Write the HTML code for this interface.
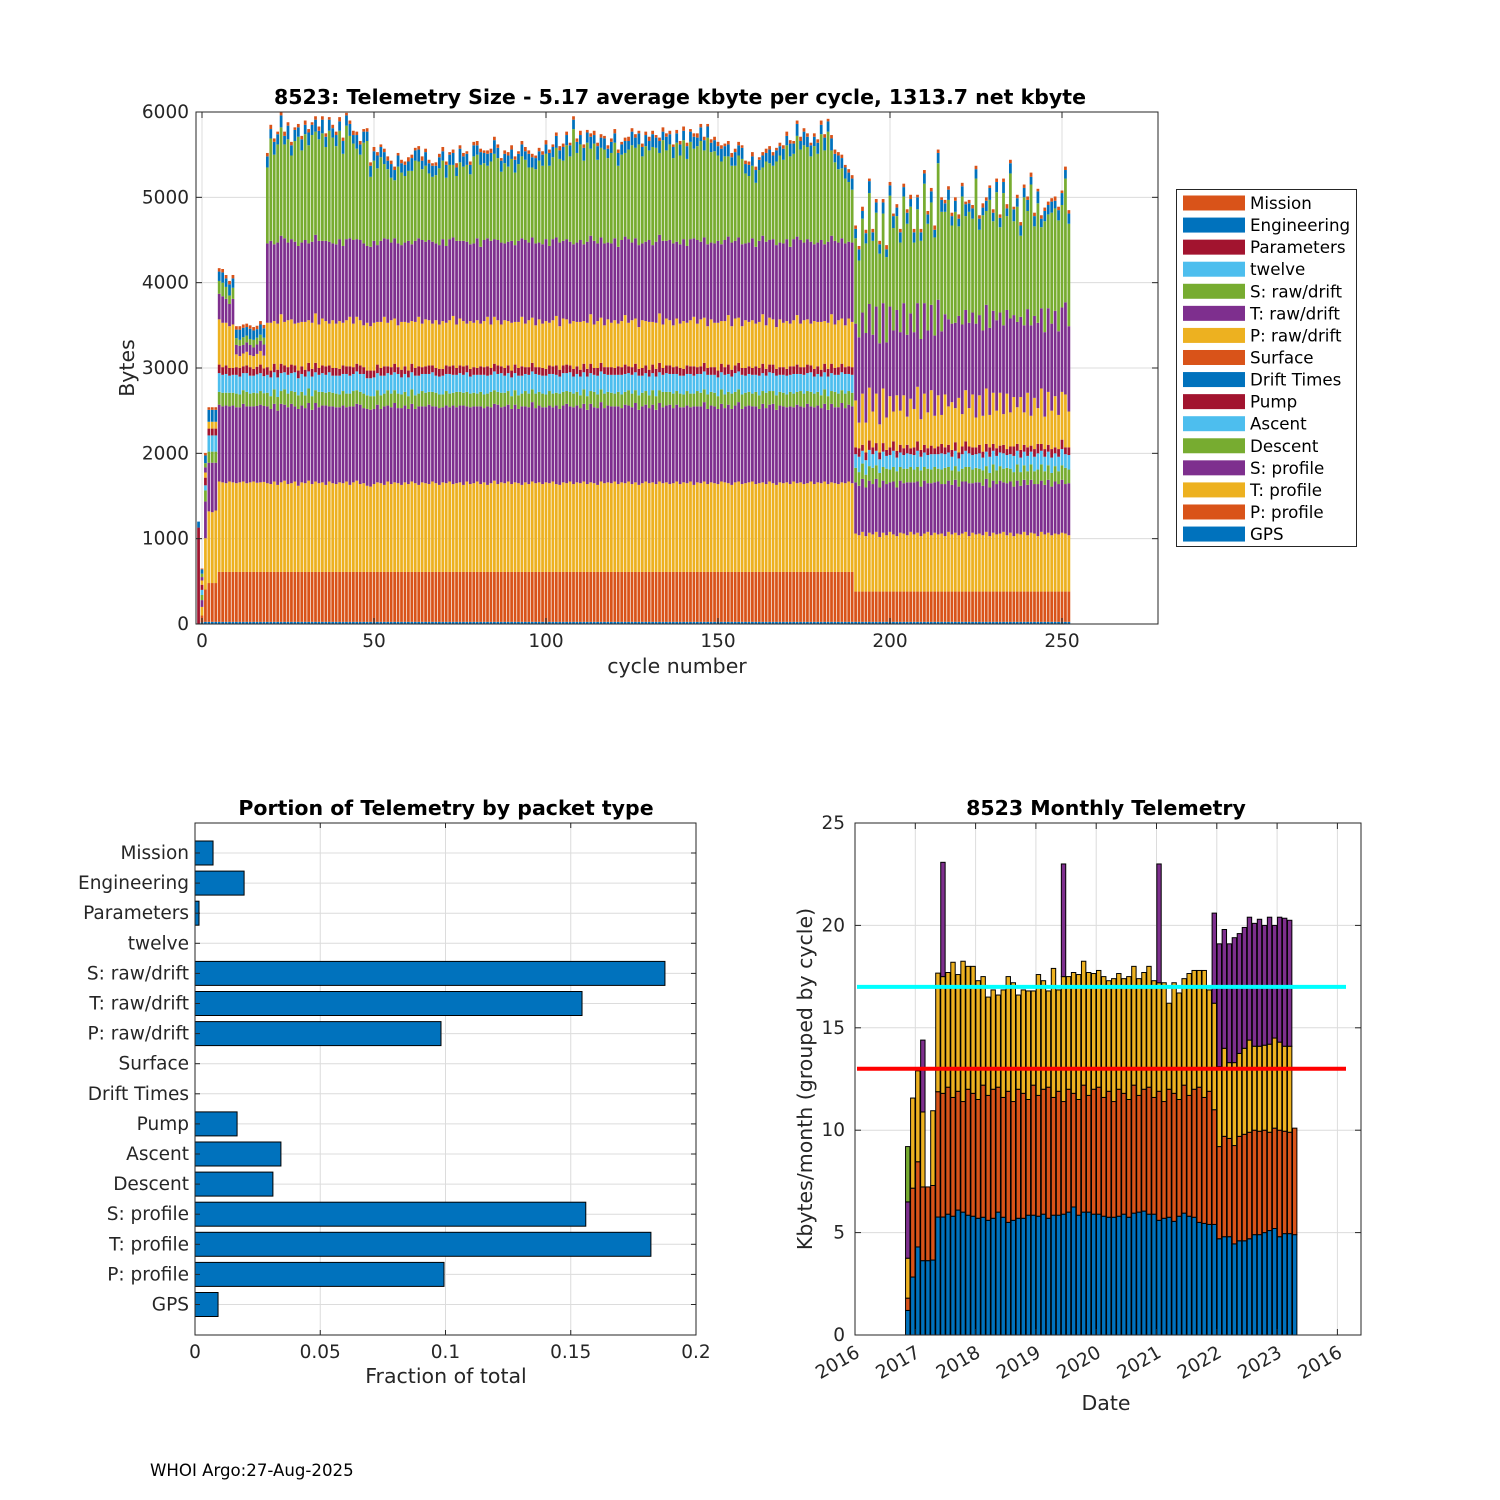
<!DOCTYPE html>
<html><head><meta charset="utf-8"><title>8523 Telemetry</title>
<style>
html,body{margin:0;padding:0;background:#fff;}
svg{display:block;font-family:"DejaVu Sans","Liberation Sans",sans-serif;}
</style></head>
<body>
<svg id="fig" xmlns="http://www.w3.org/2000/svg" width="1500" height="1500" viewBox="0 0 1500 1500">
<rect x="0" y="0" width="1500" height="1500" fill="#fff"/>
</svg>
<script>
// ---------------- TOP CHART DATA (cycles -1 .. 252) ----------------
const R = (arr, n) => [].concat(...Array(n).fill(arr));
const gps = [0,20,25,25,25,25,25,25,25,25,25,25,25,25,25,25,25,25,25,25].concat(R([25,25,25,25,25,25,25,25,25,25],17),[25],R([25,25,25,25,25,25,25],9));
const pProfile = [0,80,380,455,455,455,585,585,585,585,585,585,585,585,585,585,585,585,585,585].concat(R([585,585,585,585,585,585,585,585,585,585],17),[585],R([355,355,355,355,355,355,355],9));
const tProfile = [0,100,600,840,830,850,1060,1050,1040,1060,1050,1040,1050,1060,1040,1050,1060,1045,1050,1055,
1040,1030,1060,1020,1050,1070,1030,1040,1060,1010,
1050,1040,1070,1030,1060,1040,1050,1020,1060,1040,
1030,1050,1040,1060,1020,1050,1070,1030,1040,1010,
1000,1030,1050,1040,1020,1060,1030,1050,1040,1020,
1050,1030,1060,1040,1020,1050,1040,1030,1060,1040,
1020,1050,1040,1060,1030,1040,1050,1020,1060,1030,
1040,1060,1030,1050,1020,1040,1070,1030,1050,1040,
1060,1030,1050,1040,1020,1050,1030,1060,1040,1050,
1030,1050,1040,1060,1030,1020,1050,1040,1060,1030,
1050,1040,1060,1030,1050,1040,1020,1060,1040,1050,
1040,1060,1030,1050,1040,1060,1030,1050,1020,1040,
1060,1040,1050,1030,1060,1040,1050,1030,1040,1060,
1030,1050,1040,1060,1020,1050,1040,1060,1030,1050,
1040,1030,1060,1050,1040,1020,1050,1060,1030,1040,
1050,1060,1030,1040,1050,1030,1060,1040,1020,1050,
1040,1050,1030,1060,1040,1050,1030,1040,1060,1030,
1050,1040,1060,1030,1050,1040,1030,1050,1040,1060,1040,
680,660,700,650,690,670,700,640,690,660,700,670,650,690,680,660,700,670,690,650,
680,700,660,690,670,680,650,700,670,690,660,680,700,650,690,670,680,660,700,650,
690,670,680,700,660,690,650,680,670,700,660,690,680,650,700,670,690,660,680,670,690,680,660];
const sProfile = [0,80,430,570,580,560,900,890,910,880,900,890,880,910,900,890,880,900,910,890].concat(
R([900,880,910,870,920,890,900,930,880,900],17),[900],
R([600,580,620,570,610,590,620,580,610],7));
const descent = [0,60,130,130,130,130,150,160,150,160,150,160,150,160,170,150,160,150,160,150].concat(
R([160,150,170,160,150,180,160,150,170,160],17),[160],
R([170,160,180,150,170,190,160],9));
const ascent = [0,60,60,190,190,190,220,210,220,200,210,220,210,200,220,210,200,220,210,200].concat(
R([210,220,200,230,210,200,220,210,230,200],17),[210],
R([160,180,150,170,190,160,170],9));
const pump = [1130,60,90,80,80,80,100,90,100,90,80,90,100,80,90,100,80,90,100,90].concat(
R([90,80,100,90,110,80,90,100,80,90],17),[90],
R([80,100,70,90,110,80,90],9));
const pRaw = [0,50,60,80,80,80,530,520,500,490,510,150,140,150,160,140,150,150,160,150].concat(
R([520,560,500,540,580,510,550,530,490,560],17),[530],
[550,300,600,350,620,420,580,330,640,380,600,350,650,400,620,330,580,450,640,360,
600,420,650,380,600,340,620,450,560,400,640,380,600,450,620,350,580,420,650,380,
600,440,620,360,650,400,580,430,620,380,640,350,600,420,650,380,620,450,600,400,560,620,420]);
const tRaw = [0,40,60,0,0,0,300,310,280,260,300,110,120,100,110,120,100,110,120,130].concat(
R([930,960,900,950,920,980,910,940,960,900],17),[930],
[900,1000,950,1050,980,900,1020,950,1000,880,1050,950,1000,920,1080,960,1000,900,980,940,
1060,960,1000,940,1120,980,940,1020,920,1000,960,1050,940,1000,960,1100,940,1000,980,1020,
960,1060,940,1040,980,1100,960,1000,940,1020,980,1060,960,1000,940,990,980,1020,1000,980,990,1080,1000]);
const sRaw = [0,40,50,0,0,0,150,160,140,100,130,80,70,90,80,70,90,80,70,80,
890,1200,1050,1150,1270,1100,1210,980,1180,1280,
1080,1240,1150,1250,1210,1190,1260,1100,1300,1240,
1150,1270,1080,1330,1200,1130,1060,1000,1180,1230,
820,940,900,980,870,820,760,680,900,850,
780,820,860,940,900,830,890,780,760,800,
900,920,800,870,850,760,920,870,900,820,
1020,980,960,900,850,930,1000,960,830,940,
880,960,850,900,960,940,880,820,870,960,
920,1000,940,960,1050,980,940,1100,1000,1350,
1050,1120,980,1160,1020,1140,980,1050,1100,990,
1060,1120,950,1000,980,1050,1140,1060,1180,1020,
1120,1050,1150,1100,960,1180,1060,1120,1000,1160,
1040,1160,1020,1140,1050,1100,1180,1020,1250,1060,
1080,1000,970,980,940,900,880,960,1000,820,
780,850,750,830,800,940,900,860,980,1020,
980,1100,1060,1000,1180,1060,1140,1080,1000,1150,
1040,1240,1100,1290,1000,920,860,820,760,700,620,
1000,900,1100,1050,1300,1100,1100,1050,1050,1000,1300,1200,1100,1050,1250,1300,1250,1050,1100,1150,
1400,1250,1200,1150,1600,1400,1200,1400,1150,1300,1050,1500,1100,1300,1100,1700,1000,1350,1100,1500,
1050,1500,1000,1550,1100,1700,1100,1350,950,1500,1150,1650,1050,1400,950,1300,1100,1300,1200,1300,1200,1450,1200];
const engineering = [70,50,90,140,140,140,110,120,100,130,110,100,120,110,100,120,110,100,120,110].concat(
R([130,110,150,120,140,100,160,120,130,110],17),[130],
R([110,130,90,120,140,100,120],9));
const mission = [0,10,30,30,30,30,40,40,40,40,40,40,40,40,40,40,40,40,40,40].concat(
R([40,50,40,30,40,50,40,40,30,40],17),[40],
R([40,40,50,40,30,40,40],9));
const firstCycle = -1;
const topYTicks = [0,1000,2000,3000,4000,5000,6000];
const topXTicks = [0,50,100,150,200,250];
const legendNames = ['Mission','Engineering','Parameters','twelve','S: raw/drift','T: raw/drift','P: raw/drift','Surface','Drift Times','Pump','Ascent','Descent','S: profile','T: profile','P: profile','GPS'];

// ---------------- BOTTOM-LEFT DATA ----------------
const packetTypes = ['Mission','Engineering','Parameters','twelve','S: raw/drift','T: raw/drift','P: raw/drift','Surface','Drift Times','Pump','Ascent','Descent','S: profile','T: profile','P: profile','GPS'];
const packetFractions = [0.0072,0.0196,0.0016,0,0.1876,0.1545,0.0982,0,0,0.0168,0.0343,0.0311,0.156,0.182,0.0994,0.0092];
const fracTicks = [0,0.05,0.1,0.15,0.2];
const fracTickLabels = ['0','0.05','0.1','0.15','0.2'];

// ---------------- BOTTOM-RIGHT DATA (monthly, from Nov 2016) ----------------
const monthStart = 2016 + 10/12;
const mBlue = [1.2,2.83,4.3,3.63,3.63,3.66,5.76,5.76,
5.9,5.8,6.1,6.0,5.85,5.8,5.7,5.75,5.6,5.7,6.0,5.75,5.5,5.6,5.7,5.7,5.85,5.85,5.8,5.9,
5.7,5.85,5.85,5.9,6.0,6.25,5.85,6.0,6.0,5.9,5.9,5.8,5.75,5.75,5.8,5.9,5.75,5.95,6.0,6.05,
5.9,5.9,5.6,5.7,5.75,5.55,5.8,5.95,5.8,5.75,5.5,5.45,5.4,
5.4,4.7,4.8,4.8,4.45,4.6,4.6,4.7,4.9,4.9,5.0,5.1,5.2,4.8,4.95,4.95,4.9];
const mOrange = [0.6,4.34,4.16,3.6,3.6,3.64,6.12,6.04,
6.2,5.8,5.8,5.4,6.15,6.0,5.8,6.45,6.1,6.3,
6.1,5.85,6.4,5.8,6.3,6.1,5.65,6.35,5.9,6.1,
6.4,5.75,6.05,5.5,6.0,5.55,5.65,6.2,5.7,6.1,
6.2,5.8,6.15,5.65,6.2,5.9,5.75,6.25,5.7,5.95,
6.2,5.7,6.3,5.7,6.25,6.25,5.7,6.25,5.9,6.25,
6.6,6.15,6.5,
5.6,4.5,4.9,4.8,4.8,5.1,5.2,5.2,5.1,5.05,5.0,4.8,4.9,5.2,5.0,4.95,5.2];
const mYellow = [1.95,4.4,4.44,3.66,0,3.65,5.79,5.7,
5.6,6.6,5.7,6.85,6.0,6.2,5.8,5.3,4.8,4.85,
4.5,5.25,5.6,5.8,4.6,5.05,5.3,4.6,5.9,5.3,
4.7,6.3,4.95,6.1,5.5,5.9,6.1,6.05,6.0,5.65,
5.7,5.9,5.4,6.0,5.65,5.6,6.0,5.8,5.7,5.7,
5.9,5.7,5.3,5.8,4.2,5.4,5.2,5.2,5.95,5.8,
5.7,6.2,4.95,
5.2,3.9,4.3,3.7,4.05,4.05,4.2,4.5,4.1,4.15,4.15,4.3,4.4,4.3,4.15,4.2,0];
const mPurple = [2.75,0,0,3.51,0,0,0,5.58,
0,0,0,0,0,0,0,0,0,0,0,0,0,0,0,0,0,0,0,0,
0,0,0,5.5,0,0,0,0,0,0,0,0,0,0,0,0,0,0,0,0,
0,0,5.8,0,0,0,0,0,0,0,0,0,0,
4.4,6.0,5.8,5.8,6.1,5.85,5.9,6.0,6.0,6.2,5.85,6.2,5.5,6.1,6.25,6.15,0];
const mGreen = [2.7,0,0,0,0,0,0,0,
0,0,0,0,0,0,0,0,0,0,0,0,0,0,0,0,0,0,0,0,
0,0,0,0,0,0,0,0,0,0,0,0,0,0,0,0,0,0,0,0,
0,0,0,0,0,0,0,0,0,0,0,0,0,
0,0,0,0,0,0,0,0,0,0,0,0,0,0,0,0,0];
const monthlyYTicks = [0,5,10,15,20,25];
const yearTicks = [2016,2017,2018,2019,2020,2021,2022,2023,2024];
const yearTickLabels = ['2016','2017','2018','2019','2020','2021','2022','2023','2016'];
const refLines = [17,13];

// ---------------- helpers ----------------
const NS = 'http://www.w3.org/2000/svg';
const svg = document.getElementById('fig');
function mk(tag, attrs, parent){
  const e = document.createElementNS(NS, tag);
  for (const k in attrs) e.setAttribute(k, attrs[k]);
  (parent||svg).appendChild(e);
  return e;
}
function txt(str, attrs, parent){ const t = mk('text', attrs, parent); t.textContent = str; return t; }
const C = {blue:'#0072BD',orange:'#D95319',yellow:'#EDB120',purple:'#7E2F8E',green:'#77AC30',cyan:'#4DBEEE',red:'#A2142F'};
const GRID = '#dcdcdc', AX = '#262626';
const TICKFS = 18.5, LABFS = 20.5;

// ================= TOP CHART =================
{
  const L=196,R2=1158,T=112,B=624;
  const xs = c => 202 + c*3.44;
  const ys = v => B - v*(B-T)/6000;
  const g = mk('g',{});
  
  
  topYTicks.forEach(v=>{ const l=mk('line',{x1:L,x2:R2,y1:ys(v),y2:ys(v),stroke:GRID,'stroke-width':1},g);
      });
  topXTicks.forEach(v=>{ const l=mk('line',{x1:xs(v),x2:xs(v),y1:T,y2:B,stroke:GRID,'stroke-width':1},g);
      });
  const series = [
    ['gps',gps,C.blue],['p-profile',pProfile,C.orange],['t-profile',tProfile,C.yellow],['s-profile',sProfile,C.purple],
    ['descent',descent,C.green],['ascent',ascent,C.cyan],['pump',pump,C.red],['p-raw-drift',pRaw,C.yellow],
    ['t-raw-drift',tRaw,C.purple],['s-raw-drift',sRaw,C.green],['engineering',engineering,C.blue],['mission',mission,C.orange]];
  const bw = 0.8*3.44;
  for (let k=0;k<gps.length;k++){
    const c = firstCycle + k; let cum=0;
    series.forEach(s=>{
      const v = s[1][k]||0; if(v<=0) return;
      const r = mk('rect',{x:(xs(c)-bw/2).toFixed(2),y:ys(cum+v).toFixed(2),width:bw.toFixed(2),height:(ys(cum)-ys(cum+v)).toFixed(2),fill:s[2]},g);
      
      
      cum+=v;
    });
  }
  const box = mk('rect',{x:L,y:T,width:R2-L,height:B-T,fill:'none',stroke:AX,'stroke-width':1},g);
   
  topYTicks.forEach(v=>{
    mk('line',{x1:L,x2:L+6,y1:ys(v),y2:ys(v),stroke:AX},g); mk('line',{x1:R2,x2:R2-6,y1:ys(v),y2:ys(v),stroke:AX},g);
    const t=txt(String(v),{x:189,y:ys(v)+6,'text-anchor':'end','font-size':TICKFS,fill:AX},g);
     
  });
  topXTicks.forEach(v=>{
    mk('line',{x1:xs(v),x2:xs(v),y1:B,y2:B-6,stroke:AX},g); mk('line',{x1:xs(v),x2:xs(v),y1:T,y2:T+6,stroke:AX},g);
    const t=txt(String(v),{x:xs(v),y:647,'text-anchor':'middle','font-size':TICKFS,fill:AX},g);
     
  });
  const ti=txt('8523: Telemetry Size - 5.17 average kbyte per cycle, 1313.7 net kbyte',{x:680,y:104,'text-anchor':'middle','font-size':LABFS,'font-weight':'bold',fill:'#000'},g);
   
  const yl=txt('Bytes',{x:0,y:0,transform:'translate(134,368) rotate(-90)','text-anchor':'middle','font-size':LABFS,fill:AX},g);
   
  const xl=txt('cycle number',{x:677,y:673,'text-anchor':'middle','font-size':LABFS,fill:AX},g);
   
  // legend
  const lg = mk('g',{},g);
   
  mk('rect',{x:1176.5,y:189.5,width:180,height:357,fill:'#fff',stroke:AX,'stroke-width':1},lg);
  const lcol=[C.orange,C.blue,C.red,C.cyan,C.green,C.purple,C.yellow,C.orange,C.blue,C.red,C.cyan,C.green,C.purple,C.yellow,C.orange,C.blue];
  legendNames.forEach((n,i)=>{
    const y=203+i*22.07;
    const e=mk('g',{},lg);
     
    mk('rect',{x:1183,y:y-7.5,width:62,height:15,fill:lcol[i]},e);
    txt(n,{x:1250,y:y+6,'font-size':16.7,fill:'#000'},e);
  });
}

// ================= BOTTOM-LEFT =================
{
  const L=195,R2=696,T=823,B=1335;
  const xs = v => L + v*(R2-L)/0.2;
  const yc = i => 853 + i*30.1;
  const g = mk('g',{});
  
  
  fracTicks.forEach(v=>{ const l=mk('line',{x1:xs(v),x2:xs(v),y1:T,y2:B,stroke:GRID},g);
      });
  packetTypes.forEach((n,i)=>{ const l=mk('line',{x1:L,x2:R2,y1:yc(i),y2:yc(i),stroke:GRID},g);
      });
  packetTypes.forEach((n,i)=>{
    const v=packetFractions[i];
    if(v>0){ const r=mk('rect',{x:xs(0),y:yc(i)-12,width:xs(v)-xs(0),height:24,fill:C.blue,stroke:'#000','stroke-width':1},g);
      
       }
    mk('line',{x1:L,x2:L+5,y1:yc(i),y2:yc(i),stroke:AX},g); mk('line',{x1:R2,x2:R2-5,y1:yc(i),y2:yc(i),stroke:AX},g);
    const t=txt(n,{x:189,y:yc(i)+6,'text-anchor':'end','font-size':TICKFS,fill:AX},g);
     
  });
  const box=mk('rect',{x:L,y:T,width:R2-L,height:B-T,fill:'none',stroke:AX},g);
   
  fracTicks.forEach((v,i)=>{
    mk('line',{x1:xs(v),x2:xs(v),y1:B,y2:B-5,stroke:AX},g); mk('line',{x1:xs(v),x2:xs(v),y1:T,y2:T+5,stroke:AX},g);
    const t=txt(fracTickLabels[i],{x:xs(v),y:1358,'text-anchor':'middle','font-size':TICKFS,fill:AX},g);
     
  });
  const ti=txt('Portion of Telemetry by packet type',{x:446,y:815,'text-anchor':'middle','font-size':LABFS,'font-weight':'bold',fill:'#000'},g);
   
  const xl=txt('Fraction of total',{x:446,y:1383,'text-anchor':'middle','font-size':LABFS,fill:AX},g);
   
}

// ================= BOTTOM-RIGHT =================
{
  const L=855,R2=1361,T=823,B=1335;
  const xs = yr => L + (yr-2016)*60.3;
  const ys = v => B - v*(B-T)/25;
  const g = mk('g',{});
  
  
  yearTicks.forEach(v=>{ const l=mk('line',{x1:xs(v),x2:xs(v),y1:T,y2:B,stroke:GRID},g);
      });
  monthlyYTicks.forEach(v=>{ const l=mk('line',{x1:L,x2:R2,y1:ys(v),y2:ys(v),stroke:GRID},g);
      });
  const ms=[['blue',mBlue,C.blue],['orange',mOrange,C.orange],['yellow',mYellow,C.yellow],['purple',mPurple,C.purple],['green',mGreen,C.green]];
  const bw=4.4;
  for(let i=0;i<mBlue.length;i++){
    const xc = xs(monthStart + (i+0.5)/12); let cum=0;
    ms.forEach(s=>{
      const v=s[1][i]||0; if(v<=0) return;
      const r=mk('rect',{x:(xc-bw/2).toFixed(2),y:ys(cum+v).toFixed(2),width:bw,height:(ys(cum)-ys(cum+v)).toFixed(2),fill:s[2],stroke:'#000','stroke-width':1},g);
      
      
      cum+=v;
    });
  }
  const lc=['#00FFFF','#FF0000'];
  refLines.forEach((v,i)=>{ const l=mk('line',{x1:857,x2:1346,y1:ys(v),y2:ys(v),stroke:lc[i],'stroke-width':4},g);
      });
  const box=mk('rect',{x:L,y:T,width:R2-L,height:B-T,fill:'none',stroke:AX},g);
   
  monthlyYTicks.forEach(v=>{
    mk('line',{x1:L,x2:L+6,y1:ys(v),y2:ys(v),stroke:AX},g); mk('line',{x1:R2,x2:R2-6,y1:ys(v),y2:ys(v),stroke:AX},g);
    const t=txt(String(v),{x:845,y:ys(v)+6,'text-anchor':'end','font-size':TICKFS,fill:AX},g);
     
  });
  yearTicks.forEach((v,i)=>{
    mk('line',{x1:xs(v),x2:xs(v),y1:B,y2:B-6,stroke:AX},g); mk('line',{x1:xs(v),x2:xs(v),y1:T,y2:T+6,stroke:AX},g);
    const t=txt(yearTickLabels[i],{x:0,y:0,transform:'translate('+(xs(v)+6)+',1356) rotate(-30)','text-anchor':'end','font-size':TICKFS,fill:AX},g);
     
  });
  const ti=txt('8523 Monthly Telemetry',{x:1106,y:815,'text-anchor':'middle','font-size':LABFS,'font-weight':'bold',fill:'#000'},g);
   
  const yl=txt('Kbytes/month (grouped by cycle)',{x:0,y:0,transform:'translate(812,1079) rotate(-90)','text-anchor':'middle','font-size':LABFS,fill:AX},g);
   
  const xl=txt('Date',{x:1106,y:1410,'text-anchor':'middle','font-size':LABFS,fill:AX},g);
   
}
const foot=txt('WHOI Argo:27-Aug-2025',{x:150,y:1476,'font-size':16.6,fill:'#000'});


</script>
</body></html>
